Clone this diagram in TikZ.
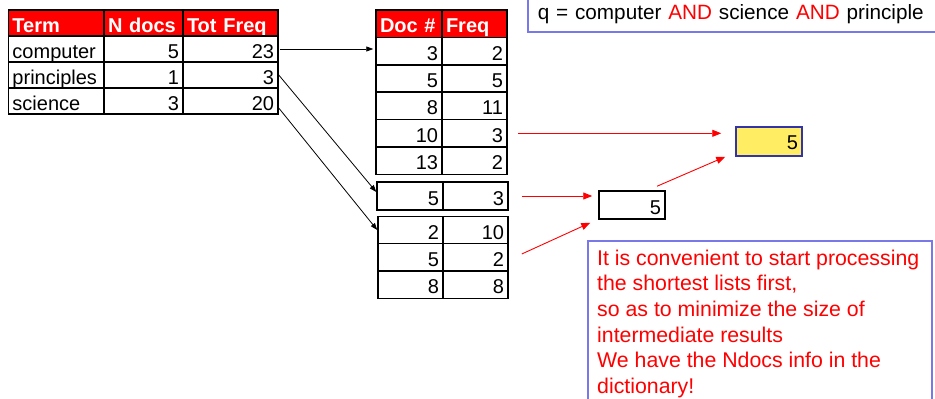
\documentclass[tikz,border=0pt]{standalone}
\usepackage{fontspec}
\setmainfont{Liberation Sans}
\usetikzlibrary{arrows.meta,calc}
\newcommand\fsz{\fontsize{20}{25.6}\selectfont}
\newcommand\fsb{\fontsize{21.3}{25.6}\selectfont}
\newcommand\fsq{\fontsize{20.7}{25.6}\selectfont}
\definecolor{lav}{RGB}{120,120,232}
\definecolor{yel}{RGB}{255,238,100}
\definecolor{ybd}{RGB}{51,51,170}
\tikzset{
  cell/.style={draw=black, line width=1.5pt, inner xsep=4pt, inner ysep=0pt,
    text height=18pt, text depth=0pt, font=\fsz, minimum height=#1},
  cell/.default=26pt,
  hdr/.style={fill=red, text=white, font=\fsz\bfseries},
  lw/.style={text width=#1, align=left},
  rw/.style={text width=#1, align=right},
  blk/.style={draw=black, line width=0.8pt, -{Triangle[length=7pt,width=5pt]}},
  redar/.style={draw=red, line width=0.9pt, -{Triangle[length=9pt,width=7pt]}},
  lavbox/.style={draw=lav, line width=1.5pt}
}
\begin{document}
\begin{tikzpicture}[x=1pt,y=-1pt]
\useasboundingbox (0,0) rectangle (935,399);
\clip (0,0) rectangle (935,399);
% left dictionary table
\node[cell, hdr, lw=87.5pt] (t01) at (56.25,23) {Term};
\node[cell, hdr, lw=71pt] (t02) at (143.5,23) {N docs};
\node[cell, hdr, lw=87pt] (t03) at (230.5,23) {Tot Freq};
\node[cell, lw=87.5pt] (t11) at (56.25,49) {computer};
\node[cell, rw=71pt] (t12) at (143.5,49) {5};
\node[cell, rw=87pt] (t13) at (230.5,49) {23};
\node[cell, lw=87.5pt] (t21) at (56.25,75) {principles};
\node[cell, rw=71pt] (t22) at (143.5,75) {1};
\node[cell, rw=87pt] (t23) at (230.5,75) {3};
\node[cell, lw=87.5pt] (t31) at (56.25,101) {science};
\node[cell, rw=71pt] (t32) at (143.5,101) {3};
\node[cell, rw=87pt] (t33) at (230.5,101) {20};
% posting list: computer
\node[cell=27.4pt, hdr, lw=58pt] (m01) at (409,23.7) {Doc \#};
\node[cell=27.4pt, hdr, lw=57pt] (m02) at (474.5,23.7) {Freq};
\node[cell=27.4pt, rw=58pt] (m11) at (409,51.1) {3};
\node[cell=27.4pt, rw=57pt] (m12) at (474.5,51.1) {2};
\node[cell=27.4pt, rw=58pt] (m21) at (409,78.5) {5};
\node[cell=27.4pt, rw=57pt] (m22) at (474.5,78.5) {5};
\node[cell=27.4pt, rw=58pt] (m31) at (409,105.9) {8};
\node[cell=27.4pt, rw=57pt] (m32) at (474.5,105.9) {11};
\node[cell=27.4pt, rw=58pt] (m41) at (409,133.3) {10};
\node[cell=27.4pt, rw=57pt] (m42) at (474.5,133.3) {3};
\node[cell=27.4pt, rw=58pt] (m51) at (409,160.7) {13};
\node[cell=27.4pt, rw=57pt] (m52) at (474.5,160.7) {2};
% posting list: principles
\node[cell=28pt, rw=58pt] (b21) at (410,196) {5};
\node[cell=28pt, rw=57pt] (b22) at (475.5,196) {3};
% posting list: science
\node[cell=27.4pt, rw=57pt] (b31) at (410.5,230) {2};
\node[cell=27.4pt, rw=57pt] (b32) at (475.5,230) {10};
\node[cell=27.4pt, rw=57pt] (b41) at (410.5,257.4) {5};
\node[cell=27.4pt, rw=57pt] (b42) at (475.5,257.4) {2};
\node[cell=27.4pt, rw=57pt] (b51) at (410.5,284.8) {8};
\node[cell=27.4pt, rw=57pt] (b52) at (475.5,284.8) {8};
% results
\node[cell=28pt, rw=58pt] (res) at (632,205) {5};
\node[cell=29pt, rw=58pt, fill=yel, draw=ybd, text height=16pt] (yel) at (769,141.5) {5};
% query box
\node[lavbox, anchor=north west, minimum width=420pt, minimum height=41pt,
  inner xsep=9pt, inner ysep=0pt, text height=16.5pt, text depth=0pt,
  text width=400pt, align=left, font=\fsq] (q) at (527,-10)
  {q = computer \textcolor{red}{AND} science \textcolor{red}{AND} principle};
% note box
\node[lavbox, anchor=north west, minimum width=344pt, minimum height=180pt] (notebox) at (587,240) {};
\node[anchor=north west, inner sep=0pt, text=red, font=\fsb, align=left] (note)
  at ($(notebox.north west)+(10,9.75)$)
  {It is convenient to start processing\\the shortest lists first,\\so as to minimize the size of\\intermediate results\\We have the Ndocs info in the\\dictionary!};
% black connectors
\draw[blk, shorten <=1pt, shorten >=2pt] (t13.east) -- (t13.east -| m11.west);
\draw[blk] (t23.east) -- ([yshift=4pt]b21.west);
\draw[blk] ([yshift=-7pt]t33.east) -- (b31.west);
% red connectors
\draw[redar] ($(m42.east)+(10,0)$) -- ($(m42.east -| yel.west)+(-14,0)$);
\draw[redar] ($(b22.east)+(13,0)$) -- ($(res.west)+(-6,-9)$);
\draw[redar] ($(b32.east)+(13,24)$) -- ($(res.south west)+(-8,3)$);
\draw[redar] ($(res.north)+(25,-4)$) -- ($(yel.south west)+(-10,0)$);
\end{tikzpicture}
\end{document}
